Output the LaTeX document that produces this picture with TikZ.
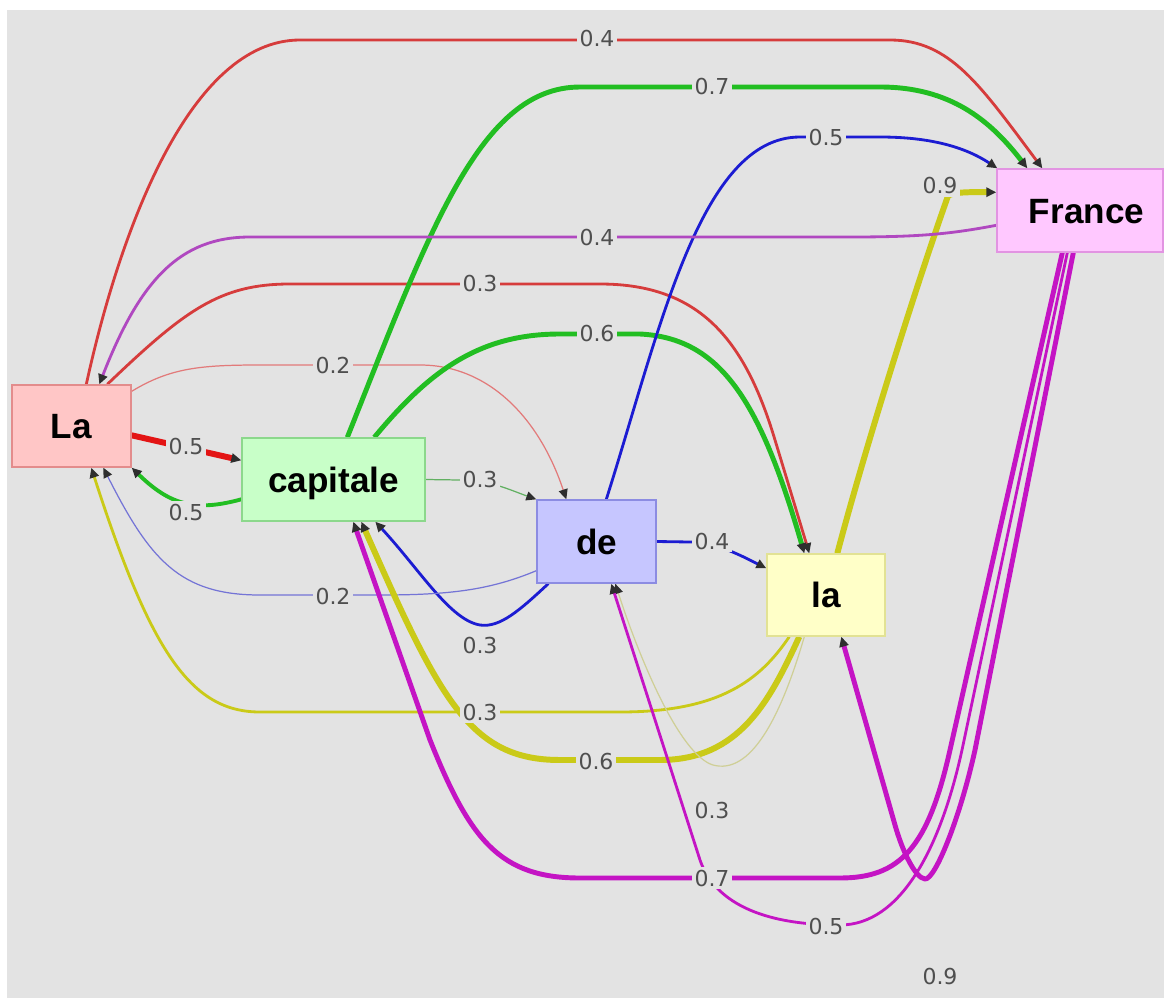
\documentclass[tikz,border=0pt]{standalone}
\usepackage{fontspec}
\setmainfont{Liberation Sans}
\newfontfamily\weightfont{DejaVu Sans}
\usetikzlibrary{arrows.meta,calc}

% canvas and text colours
\definecolor{canvas}{HTML}{E3E3E3}
\definecolor{weightgrey}{HTML}{4F4F4F}
\definecolor{tipgrey}{HTML}{2E2E2E}
% edge colours (one per source word)
\definecolor{ered}{HTML}{D63C3C}
\definecolor{ebrightred}{HTML}{E31414}
\definecolor{epalered}{HTML}{E27A7A}
\definecolor{egreen}{HTML}{22BE22}
\definecolor{epalegreen}{HTML}{62B062}
\definecolor{eblue}{HTML}{1C1CD2}
\definecolor{epaleblue}{HTML}{7474D6}
\definecolor{eyellow}{HTML}{CACA18}
\definecolor{epaleyellow}{HTML}{CFCF96}
\definecolor{emagenta}{HTML}{C414C4}
\definecolor{epurple}{HTML}{B048C0}
% word boxes
\definecolor{fillLa}{HTML}{FFC6C6}  \definecolor{lineLa}{HTML}{E38C8C}
\definecolor{fillCap}{HTML}{C8FFC8} \definecolor{lineCap}{HTML}{8CD88C}
\definecolor{fillDe}{HTML}{C6C6FF}  \definecolor{lineDe}{HTML}{8C8CE2}
\definecolor{fillla}{HTML}{FFFFC8}  \definecolor{linela}{HTML}{E2E294}
\definecolor{fillFr}{HTML}{FFC8FF}  \definecolor{lineFr}{HTML}{E294E2}

\pgfdeclarelayer{canvaslayer}
\pgfdeclarelayer{edgelayer}
\pgfsetlayers{canvaslayer,edgelayer,main}

\tikzset{
  word/.style={draw, line width=0.8pt, inner sep=0pt, text=black,
    font=\bfseries\fontsize{20}{24}\selectfont, text height=14.3pt, text depth=0pt},
  weight/.style={font=\weightfont\fontsize{12.5}{15}\selectfont, text=weightgrey,
    fill=canvas, inner sep=1.5pt},
  conn/.style={-{Triangle[length=5.7pt,width=5.2pt,color=tipgrey]}, line join=round},
  lwA/.style={line width=0.7pt},
  lwB/.style={line width=1.6pt},
  lwC/.style={line width=2.2pt},
  lwD/.style={line width=2.8pt},
  lwE/.style={line width=3.4pt},
}

\begin{document}
\begin{tikzpicture}[x=0.02cm, y=-0.02cm]
\useasboundingbox (0,0) rectangle (1164,998);
\begin{pgfonlayer}{canvaslayer}
  \fill[white] (0,0) rectangle (1164,998);
  \fill[canvas] (7,10) rectangle (1164,998);
\end{pgfonlayer}

% words
\node[word, fill=fillLa,  draw=lineLa,  minimum width=2.38cm, minimum height=1.64cm] (La) at (71.5,426) {La};
\node[word, fill=fillCap, draw=lineCap, minimum width=3.66cm, minimum height=1.66cm] (capitale) at (333.5,479.5) {capitale};
\node[word, fill=fillDe,  draw=lineDe,  minimum width=2.38cm, minimum height=1.66cm] (de) at (596.5,541.5) {de};
\node[word, fill=fillla,  draw=linela,  minimum width=2.36cm, minimum height=1.64cm] (la) at (826,595) {la};
\node[word, fill=fillFr,  draw=lineFr,  minimum width=3.32cm, minimum height=1.66cm] (France) at (1080,210.5) {\hspace{0.26cm}France};

% attention weights
\node[weight] (w1)  at (597,39)  {0.4};
\node[weight] (w2)  at (712,87)  {0.7};
\node[weight] (w3)  at (826,138) {0.5};
\node[weight] (w4)  at (940,186) {0.9};
\node[weight] (w5)  at (597,237) {0.4};
\node[weight] (w6)  at (480,284) {0.3};
\node[weight] (w7)  at (333,365) {0.2};
\node[weight] (w8)  at (186,446) {0.5};
\node[weight] (w9)  at (186,512) {0.5};
\node[weight] (w10) at (480,479) {0.3};
\node[weight] (w11) at (597,333) {0.6};
\node[weight] (w12) at (712,541) {0.4};
\node[weight] (w13) at (480,645) {0.3};
\node[weight] (w14) at (333,596) {0.2};
\node[weight] (w15) at (480,712) {0.3};
\node[weight] (w16) at (596,761) {0.6};
\node[weight] (w17) at (712,810) {0.3};
\node[weight] (w18) at (712,878) {0.7};
\node[weight] (w19) at (826,926) {0.5};
\node[weight] (w20) at (940,976) {0.9};

\begin{pgfonlayer}{edgelayer}
% from "La" (red)
\draw[conn, ered, lwB] ($(La.north west)+(75,0)$) .. controls (120,230) and (190,40) .. (300,40)
  -- (890,40) .. controls (950,40) and (980,85) .. ($(France.north west)+(46,0)$);
\draw[conn, ered, lwB] ($(La.north west)+(96,0)$) .. controls (185,310) and (220,284) .. (290,284)
  -- (600,284) .. controls (700,284) and (745,340) .. (775,440) -- ($(la.north west)+(43,0)$);
\draw[conn, epalered, lwA] ($(La.north east)+(0,7)$) .. controls (170,368) and (200,365) .. (260,365)
  -- (420,365) .. controls (490,365) and (540,420) .. ($(de.north west)+(30,0)$);
\draw[conn, ebrightred, lwE] ($(La.north east)+(0,51)$) -- ($(capitale.north west)+(0,23)$);

% from "capitale" (green)
\draw[conn, egreen, lwD] ($(capitale.north west)+(106,0)$) .. controls (430,230) and (480,87) .. (580,87)
  -- (880,87) .. controls (950,87) and (990,120) .. ($(France.north west)+(31,0)$);
\draw[conn, egreen, lwD] ($(capitale.north west)+(133,0)$) .. controls (430,370) and (480,334) .. (560,334)
  -- (640,334) .. controls (720,338) and (760,400) .. ($(la.north west)+(38,0)$);
\draw[conn, egreen, lwC] ($(capitale.north west)+(0,62)$) .. controls (195,512) and (170,505) .. (La.south east);
\draw[conn, epalegreen, lwA] (capitale.east) -- (460,480) .. controls (490,480) and (510,490) .. (de.north west);

% from "de" (blue)
\draw[conn, eblue, lwB] ($(de.north west)+(70,0)$) .. controls (660,330) and (700,137) .. (800,137)
  -- (880,137) .. controls (930,137) and (965,147) .. ($(France.north west)+(1,0)$);
\draw[conn, eblue, lwB] (de.east) -- (690,542) .. controls (715,542) and (740,555) .. ($(la.north west)+(0,15)$);
\draw[conn, eblue, lwB] ($(de.south west)+(12,0)$) .. controls (520,610) and (500,628) .. (480,625)
  .. controls (450,620) and (420,570) .. ($(capitale.south west)+(134,0)$);
\draw[conn, epaleblue, lwA] ($(de.south west)+(0,-13)$) .. controls (490,590) and (450,595) .. (380,595)
  -- (260,595) .. controls (180,595) and (150,560) .. ($(La.south west)+(92,0)$);

% from "la" (yellow)
\draw[conn, eyellow, lwE] ($(la.north west)+(71,0)$) .. controls (870,430) and (925,260) .. (948,196)
  .. controls (952,192) and (970,192) .. ($(France.north west)+(0,24)$);
\draw[conn, eyellow, lwB] ($(la.south west)+(23,0)$) .. controls (760,680) and (720,712) .. (620,712)
  -- (260,712) .. controls (190,712) and (150,650) .. ($(La.south west)+(80,0)$);
\draw[conn, eyellow, lwE] ($(la.south west)+(33,0)$) .. controls (770,700) and (740,760) .. (660,760)
  -- (560,760) .. controls (470,760) and (440,700) .. ($(capitale.south west)+(120,0)$);
\draw[conn, epaleyellow, lwA] ($(la.south west)+(38,0)$) .. controls (780,720) and (750,775) .. (713,765)
  .. controls (680,755) and (640,660) .. ($(de.south west)+(79,0)$);

% from "France" (magenta)
\draw[conn, epurple, lwB] ($(France.north west)+(0,57)$) .. controls (950,234) and (920,237) .. (850,237)
  -- (250,237) .. controls (180,237) and (140,280) .. ($(La.north west)+(88,0)$);
\draw[conn, emagenta, lwD] ($(France.south west)+(66,0)$) -- (950,750) .. controls (928,848) and (900,878) .. (840,878)
  -- (580,878) .. controls (500,878) and (470,840) .. (430,740) -- ($(capitale.south west)+(112,0)$);
\draw[conn, emagenta, lwB] ($(France.south west)+(71,0)$) -- (962,750) .. controls (940,850) and (900,925) .. (840,925)
  .. controls (750,925) and (712,895) .. (700,860) -- ($(de.south west)+(75,0)$);
\draw[conn, emagenta, lwD] ($(France.south west)+(77,0)$) -- (975,750) .. controls (960,818) and (935,880) .. (925,879)
  .. controls (915,878) and (902,850) .. (895,825) -- ($(la.south west)+(75,0)$);
\end{pgfonlayer}
\end{tikzpicture}
\end{document}
